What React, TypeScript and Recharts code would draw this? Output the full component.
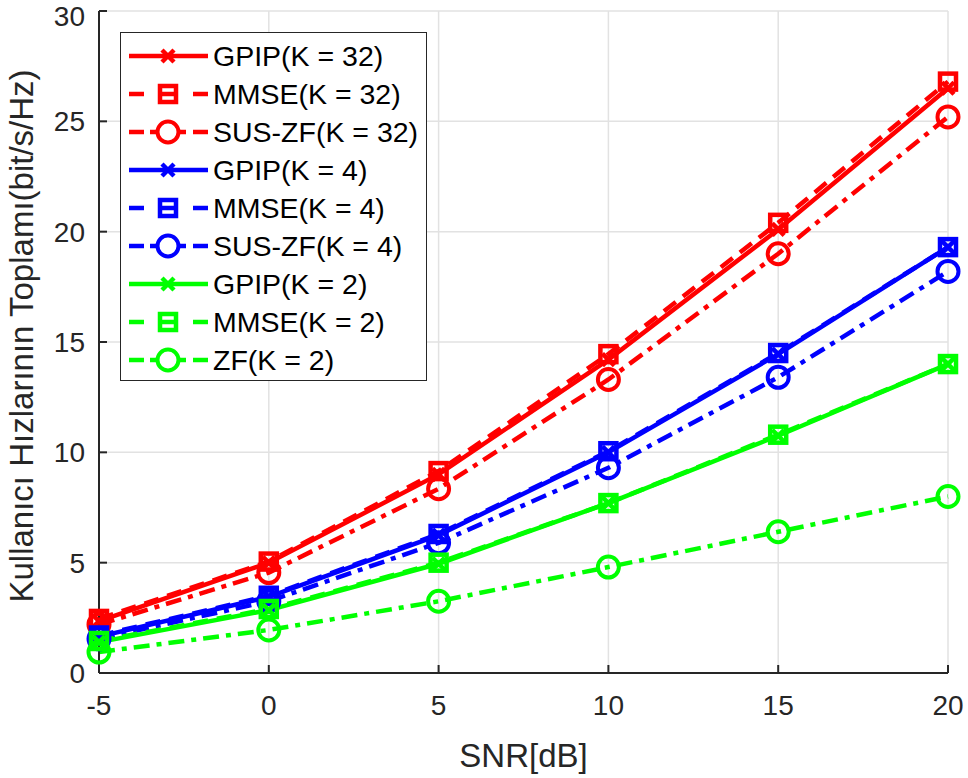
import React from 'react'
import {
  LineChart,
  Line,
  XAxis,
  YAxis,
  CartesianGrid,
  Legend,
  Label,
} from 'recharts'

const snr = [-5, 0, 5, 10, 15, 20]
const yTicks = [0, 5, 10, 15, 20, 25, 30]

const gpip32 = [2.35, 5.0, 9.0, 14.2, 20.1, 26.5]
const mmse32 = [2.45, 5.05, 9.15, 14.45, 20.4, 26.8]
const suszf32 = [2.2, 4.55, 8.35, 13.3, 19.0, 25.2]
const gpip4 = [1.65, 3.45, 6.25, 10.0, 14.45, 19.3]
const mmse4 = [1.7, 3.5, 6.3, 10.05, 14.5, 19.3]
const suszf4 = [1.55, 3.25, 5.9, 9.3, 13.4, 18.2]
const gpip2 = [1.4, 2.85, 4.95, 7.7, 10.75, 14.0]
const mmse2 = [1.45, 2.9, 5.0, 7.7, 10.8, 14.0]
const zf2 = [0.95, 1.95, 3.25, 4.8, 6.4, 8.0]

const FONT = '"Liberation Sans", Arial, Helvetica, sans-serif'
const AXIS = '#262626'
const RED = '#ff0000'
const BLUE = '#0000ff'
const GREEN = '#00ff00'
const LW = 4.5

type Marker = 'cross' | 'square' | 'circle'
type Dash = 'solid' | 'dashed' | 'dashdot'

interface SeriesConfig {
  key: string
  name: string
  color: string
  dash: Dash
  marker: Marker
  values: number[]
}

const series: SeriesConfig[] = [
  { key: 'gpip32', name: 'GPIP(K = 32)', color: RED, dash: 'solid', marker: 'cross', values: gpip32 },
  { key: 'mmse32', name: 'MMSE(K = 32)', color: RED, dash: 'dashed', marker: 'square', values: mmse32 },
  { key: 'suszf32', name: 'SUS-ZF(K = 32)', color: RED, dash: 'dashdot', marker: 'circle', values: suszf32 },
  { key: 'gpip4', name: 'GPIP(K = 4)', color: BLUE, dash: 'solid', marker: 'cross', values: gpip4 },
  { key: 'mmse4', name: 'MMSE(K = 4)', color: BLUE, dash: 'dashed', marker: 'square', values: mmse4 },
  { key: 'suszf4', name: 'SUS-ZF(K = 4)', color: BLUE, dash: 'dashdot', marker: 'circle', values: suszf4 },
  { key: 'gpip2', name: 'GPIP(K = 2)', color: GREEN, dash: 'solid', marker: 'cross', values: gpip2 },
  { key: 'mmse2', name: 'MMSE(K = 2)', color: GREEN, dash: 'dashed', marker: 'square', values: mmse2 },
  { key: 'zf2', name: 'ZF(K = 2)', color: GREEN, dash: 'dashdot', marker: 'circle', values: zf2 },
]

const rows = snr.map((s, i) => {
  const row: Record<string, number> = { snr: s }
  series.forEach((c) => {
    row[c.key] = c.values[i]
  })
  return row
})

const dashArray = (d: Dash) =>
  d === 'dashed' ? '15 9' : d === 'dashdot' ? '16 7 5 7' : undefined

function MarkerShape({ cx, cy, marker, color }: { cx: number; cy: number; marker: Marker; color: string }) {
  if (cx == null || cy == null) return null
  if (marker === 'square') {
    return <rect x={cx - 8} y={cy - 8} width={16} height={16} fill="none" stroke={color} strokeWidth={4.5} />
  }
  if (marker === 'circle') {
    return <circle cx={cx} cy={cy} r={10.5} fill="none" stroke={color} strokeWidth={4} />
  }
  return (
    <g stroke={color} strokeWidth={4.5}>
      <line x1={cx - 6} y1={cy - 6} x2={cx + 6} y2={cy + 6} />
      <line x1={cx - 6} y1={cy + 6} x2={cx + 6} y2={cy - 6} />
    </g>
  )
}

function LegendBox() {
  const rowH = 38
  const segs: Record<Dash, Array<[number, number]>> = {
    solid: [[8, 87]],
    dashed: [[8, 23], [72, 87]],
    dashdot: [[8, 23], [29, 37], [57, 65], [72, 87]],
  }
  return (
    <div style={{ width: 305, height: 347, background: '#fff', border: `1.5px solid ${AXIS}` }}>
      <svg width={305} height={347}>
        {series.map((s, i) => {
          const y = 23 + i * rowH
          return (
            <g key={s.key}>
              {segs[s.dash].map(([a, b], j) => (
                <line key={j} x1={a} x2={b} y1={y} y2={y} stroke={s.color} strokeWidth={LW} />
              ))}
              <MarkerShape cx={47} cy={y} marker={s.marker} color={s.color} />
              {s.marker === 'square' && (
                <line x1={40} x2={54} y1={y} y2={y} stroke={s.color} strokeWidth={LW} />
              )}
              <text x={92} y={y} dy="0.36em" fontSize={28.5} fontFamily={FONT} fill="#000">
                {s.name}
              </text>
            </g>
          )
        })}
      </svg>
    </div>
  )
}

export default function App() {
  return (
    <div style={{ position: 'absolute', left: 0, top: 0, width: 968, height: 778, background: '#fff' }}>
      <LineChart
        width={968}
        height={778}
        data={rows}
        margin={{ top: 11, right: 20, left: 0, bottom: 0 }}
      >
        <CartesianGrid stroke="#e2e2e2" strokeWidth={1.5} />
        <XAxis
          dataKey="snr"
          type="number"
          domain={[-5, 20]}
          ticks={snr}
          height={105}
          stroke={AXIS}
          strokeWidth={2}
          tickSize={-8}
          tickMargin={30}
          tick={{ fill: AXIS, fontSize: 28, fontFamily: FONT }}
        >
          <Label
            content={({ viewBox }: any) => (
              <text
                x={viewBox.x + viewBox.width / 2}
                y={767}
                textAnchor="middle"
                fontSize={33}
                fontFamily={FONT}
                fill={AXIS}
              >
                SNR[dB]
              </text>
            )}
          />
        </XAxis>
        <XAxis
          xAxisId="top"
          orientation="top"
          type="number"
          domain={[-5, 20]}
          ticks={snr}
          height={0}
          stroke={AXIS}
          strokeWidth={2}
          tickSize={-8}
          tick={false}
        />
        <YAxis
          type="number"
          domain={[0, 30]}
          ticks={yTicks}
          width={99}
          stroke={AXIS}
          strokeWidth={2}
          tickSize={-8}
          tickMargin={22}
          tick={{ fill: AXIS, fontSize: 28, fontFamily: FONT }}
        >
          <Label
            content={({ viewBox }: any) => {
              const cy = viewBox.y + viewBox.height / 2 - 6
              return (
                <text
                  x={33}
                  y={cy}
                  transform={`rotate(-90 33 ${cy})`}
                  textAnchor="middle"
                  fontSize={33}
                  fontFamily={FONT}
                  fill={AXIS}
                >
                  Kullanıcı Hızlarının Toplamı(bit/s/Hz)
                </text>
              )
            }}
          />
        </YAxis>
        <YAxis
          yAxisId="right"
          orientation="right"
          type="number"
          domain={[0, 30]}
          ticks={yTicks}
          width={0}
          stroke={AXIS}
          strokeWidth={2}
          tickSize={-8}
          tick={false}
        />
        <Legend
          layout="vertical"
          align="center"
          verticalAlign="middle"
          wrapperStyle={{ left: 120, top: 32, width: 308, height: 350 }}
          content={() => <LegendBox />}
        />
        {series.map((s) => (
          <Line
            key={s.key}
            dataKey={s.key}
            name={s.name}
            type="linear"
            stroke={s.color}
            strokeWidth={LW}
            strokeDasharray={dashArray(s.dash)}
            dot={(p: any) => (
              <MarkerShape key={`${s.key}-${p.index}`} cx={p.cx} cy={p.cy} marker={s.marker} color={s.color} />
            )}
            activeDot={false}
            isAnimationActive={false}
          />
        ))}
      </LineChart>
    </div>
  )
}
